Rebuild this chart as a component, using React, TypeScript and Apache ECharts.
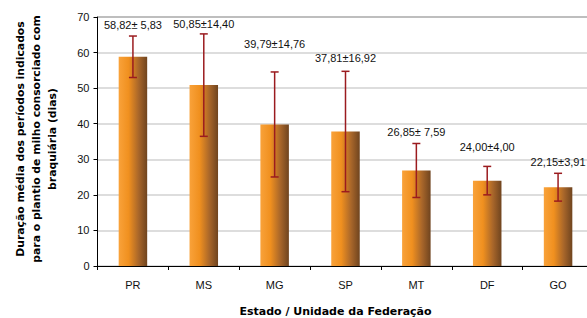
import React, { useEffect, useRef } from "react";
import * as echarts from "echarts";

const categories = ["PR", "MS", "MG", "SP", "MT", "DF", "GO"];
const means = [58.82, 50.85, 39.79, 37.81, 26.85, 24.0, 22.15];
const sds = [5.83, 14.4, 14.76, 16.92, 7.59, 4.0, 3.91];
const labels = [
  "58,82± 5,83",
  "50,85±14,40",
  "39,79±14,76",
  "37,81±16,92",
  "26,85± 7,59",
  "24,00±4,00",
  "22,15±3,91",
];
const yTicks = [0, 10, 20, 30, 40, 50, 60, 70];

export default function App() {
  const ref = useRef<HTMLDivElement>(null);
  useEffect(() => {
    document.body.style.margin = "0";
    const chart = echarts.init(ref.current!, null, { renderer: "svg" });
    const labelGap = [11, 10, 28, 13, 11, 19, 11];
    const gridColors = yTicks.map((v, i) => (i === yTicks.length - 1 ? "#a8a8a8" : "#d2d2d2"));
    chart.setOption({
      animation: false,
      grid: { left: 97.5, right: -6.5, top: 17, bottom: 52, outerBoundsMode: "none", containLabel: false },
      xAxis: {
        type: "category",
        data: categories,
        axisLine: { lineStyle: { color: "#000", width: 1 } },
        axisTick: { show: true, length: 4, inside: false, alignWithLabel: false, lineStyle: { color: "#000" } },
        axisLabel: { color: "#111", fontFamily: "Liberation Sans, Arial", fontSize: 11, margin: 13 },
        name: "Estado / Unidade da Federação",
        nameLocation: "middle",
        nameGap: 40,
        nameTextStyle: {
          fontFamily: "DejaVu Sans",
          fontWeight: "bold",
          fontSize: 11,
          color: "#000",
          padding: [0, 0, 0, -20],
        },
      },
      yAxis: {
        type: "value",
        min: 0,
        max: 70,
        interval: 10,
        axisLine: { show: true, lineStyle: { color: "#000", width: 1 } },
        axisTick: { show: true, length: 4, lineStyle: { color: "#000" } },
        axisLabel: { color: "#111", fontFamily: "Liberation Sans, Arial", fontSize: 11, margin: 8 },
        splitLine: { show: true, lineStyle: { color: gridColors, width: 1.5 } },
      },
      series: [
        {
          type: "bar",
          data: means,
          barWidth: 28.5,
          itemStyle: {
            color: new echarts.graphic.LinearGradient(0, 0, 1, 0, [
              { offset: 0, color: "#f9a23a" },
              { offset: 0.35, color: "#f0901f" },
              { offset: 0.7, color: "#a8662a" },
              { offset: 1, color: "#6f441f" },
            ]),
          },
          z: 2,
        },
        {
          type: "custom",
          z: 5,
          data: means.map((m, i) => [i, m, sds[i]]),
          renderItem: (params: any, api: any) => {
            const i = api.value(0);
            const m = api.value(1);
            const s = api.value(2);
            const top = api.coord([i, m + s]);
            const bot = api.coord([i, m - s]);
            const cw = 4;
            const stroke = { stroke: "#9b1b1f", lineWidth: 1.5 };
            return {
              type: "group",
              children: [
                { type: "line", shape: { x1: top[0], y1: top[1], x2: bot[0], y2: bot[1] }, style: stroke },
                { type: "line", shape: { x1: top[0] - cw, y1: top[1], x2: top[0] + cw, y2: top[1] }, style: stroke },
                { type: "line", shape: { x1: bot[0] - cw, y1: bot[1], x2: bot[0] + cw, y2: bot[1] }, style: stroke },
                {
                  type: "text",
                  x: top[0],
                  y: top[1] - labelGap[i],
                  style: {
                    text: labels[i],
                    fill: "#111",
                    fontFamily: "Liberation Sans, Arial",
                    fontSize: 11,
                    align: "center",
                    verticalAlign: "middle",
                  },
                },
              ],
            };
          },
        },
      ],
      graphic: [
        {
          type: "text",
          x: 36,
          y: 139,
          rotation: Math.PI / 2,
          style: {
            text:
              "Duração média dos períodos indicados\npara o plantio de milho consorciado com\nbraquiária (dias)",
            fontFamily: "DejaVu Sans",
            fontWeight: "bold",
            fontSize: 10.8,
            lineHeight: 16,
            fill: "#000",
            align: "center",
            verticalAlign: "middle",
          },
        },
      ],
    });
    return () => chart.dispose();
  }, []);
  return <div ref={ref} style={{ width: 587, height: 318 }} />;
}
